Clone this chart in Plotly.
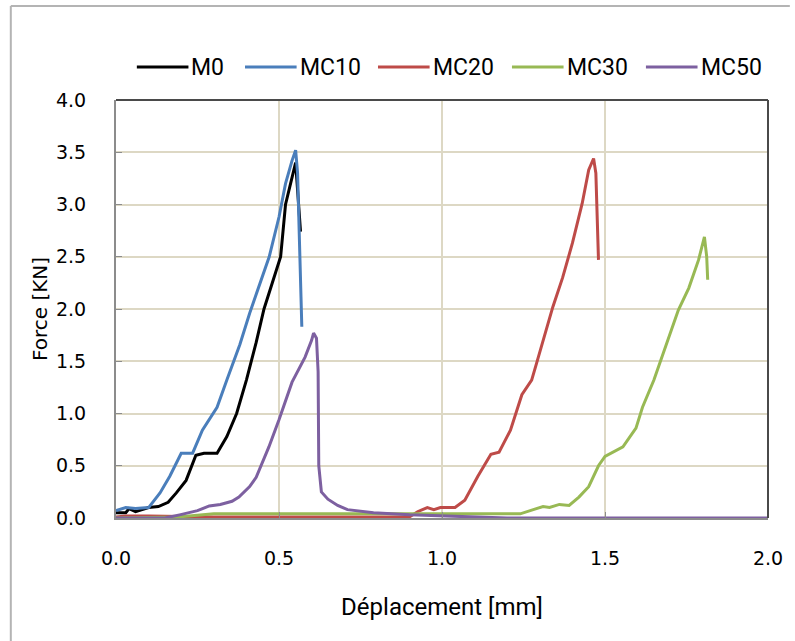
import plotly.graph_objects as go

# ---- data ----
m0_x = [0, 0.03, 0.04, 0.06, 0.1, 0.13, 0.16, 0.185, 0.215, 0.245, 0.27, 0.31, 0.34, 0.37, 0.40, 0.43, 0.454, 0.49, 0.505, 0.52, 0.545, 0.551, 0.566]
m0_y = [0.05, 0.05, 0.09, 0.06, 0.1, 0.11, 0.15, 0.24, 0.36, 0.6, 0.62, 0.62, 0.78, 1.0, 1.32, 1.68, 2.0, 2.35, 2.5, 3.0, 3.3, 3.4, 2.74]

mc10_x = [0, 0.03, 0.06, 0.1, 0.135, 0.165, 0.2, 0.215, 0.235, 0.265, 0.31, 0.34, 0.38, 0.41, 0.44, 0.47, 0.5, 0.52, 0.54, 0.551, 0.557, 0.57]
mc10_y = [0.07, 0.1, 0.09, 0.1, 0.24, 0.4, 0.62, 0.62, 0.62, 0.84, 1.06, 1.32, 1.66, 1.96, 2.22, 2.5, 2.88, 3.2, 3.42, 3.52, 3.3, 1.83]

mc20_x = [0, 0.03, 0.1, 0.3, 0.6, 0.9, 0.925, 0.955, 0.975, 0.995, 1.04, 1.07, 1.11, 1.15, 1.175, 1.21, 1.245, 1.275, 1.29, 1.34, 1.37, 1.40, 1.43, 1.45, 1.465, 1.472, 1.48]
mc20_y = [0.01, 0.02, 0.02, 0.01, 0.01, 0.01, 0.06, 0.1, 0.08, 0.1, 0.1, 0.17, 0.4, 0.61, 0.63, 0.84, 1.18, 1.32, 1.48, 2.02, 2.3, 2.63, 3.01, 3.33, 3.44, 3.3, 2.47]

mc30_x = [0, 0.19, 0.3, 0.6, 1.0, 1.24, 1.28, 1.31, 1.33, 1.36, 1.39, 1.42, 1.45, 1.48, 1.50, 1.53, 1.555, 1.595, 1.615, 1.65, 1.685, 1.725, 1.757, 1.787, 1.805, 1.812, 1.815]
mc30_y = [0.0, 0.01, 0.04, 0.04, 0.04, 0.04, 0.08, 0.11, 0.1, 0.13, 0.12, 0.2, 0.3, 0.5, 0.59, 0.64, 0.68, 0.86, 1.06, 1.32, 1.64, 1.99, 2.2, 2.47, 2.69, 2.5, 2.28]

mc50_x = [0, 0.15, 0.195, 0.25, 0.286, 0.32, 0.356, 0.377, 0.41, 0.43, 0.469, 0.5, 0.54, 0.58, 0.6, 0.606, 0.615, 0.62, 0.622, 0.63, 0.65, 0.68, 0.71, 0.79, 0.9, 1.0, 1.2, 2.0]
mc50_y = [0.0, 0.0, 0.03, 0.07, 0.115, 0.13, 0.16, 0.2, 0.3, 0.39, 0.68, 0.94, 1.3, 1.54, 1.7, 1.77, 1.72, 1.4, 0.5, 0.25, 0.18, 0.12, 0.08, 0.05, 0.03, 0.02, 0.0, 0.0]

series_names = ["M0", "MC10", "MC20", "MC30", "MC50"]
series_x = [m0_x, mc10_x, mc20_x, mc30_x, mc50_x]
series_y = [m0_y, mc10_y, mc20_y, mc30_y, mc50_y]
series_colors = ["#000000", "#4a7ebb", "#be4b48", "#98b954", "#7d60a0"]

x_ticks = [0.0, 0.5, 1.0, 1.5, 2.0]
y_ticks = [0.0, 0.5, 1.0, 1.5, 2.0, 2.5, 3.0, 3.5, 4.0]

# layout geometry (pixels)
W, H = 795, 641
L, R, T, B = 116, 22, 100, 123
PW, PH = W - L - R, H - T - B

def px(xp):
    return (xp - L) / PW

def py(yp):
    return (H - B - yp) / PH

fig = go.Figure()
for name, xs, ys, col in zip(series_names, series_x, series_y, series_colors):
    fig.add_trace(go.Scatter(x=xs, y=ys, name=name, mode="lines",
                             line=dict(color=col, width=3), showlegend=False))

tick_font = dict(family="DejaVu Sans", size=19, color="#000000")

# manual legend (long line samples like the reference)
legend_starts = [137, 246, 380, 515, 650]
legend_line_len = 52
legend_y = 67
shapes = []
annotations = []
for name, col, x0 in zip(series_names, series_colors, legend_starts):
    shapes.append(dict(type="line", xref="paper", yref="paper",
                       x0=px(x0), x1=px(x0 + legend_line_len),
                       y0=py(legend_y), y1=py(legend_y),
                       line=dict(color=col, width=3)))
    annotations.append(dict(text=name, xref="paper", yref="paper",
                            x=px(x0 + legend_line_len + 1), y=py(legend_y),
                            xanchor="left", yanchor="middle", showarrow=False,
                            font=dict(family="Roboto", size=23, color="#000000")))

shapes += [
    dict(type="line", xref="x domain", yref="y domain", x0=0, x1=1, y0=1, y1=1,
         line=dict(color="#4a4a4a", width=2)),
    dict(type="line", xref="x domain", yref="y domain", x0=1, x1=1, y0=0, y1=1,
         line=dict(color="#4a4a4a", width=2)),
    dict(type="line", xref="paper", yref="paper", x0=px(10), x1=px(W),
         y0=py(6), y1=py(6), line=dict(color="#b4b4b4", width=2)),
    dict(type="line", xref="paper", yref="paper", x0=px(10), x1=px(10),
         y0=py(6), y1=py(H), line=dict(color="#b4b4b4", width=2)),
]

fig.update_layout(
    width=W, height=H,
    margin=dict(l=L, r=R, t=T, b=B),
    paper_bgcolor="white", plot_bgcolor="white",
    showlegend=False,
    xaxis=dict(range=[0, 2.0], tickvals=x_ticks, ticktext=[f"{v:.1f}" for v in x_ticks],
               showgrid=True, gridcolor="#ddd8c4", gridwidth=2,
               showline=True, linecolor="#8c8c8c", linewidth=2,
               ticks="inside", ticklen=6, tickcolor="#8c8c8c", tickwidth=1,
               tickfont=tick_font, ticklabelstandoff=22, zeroline=False,
               title=dict(text="Déplacement [mm]", font=dict(family="Roboto", size=24, color="#000000"),
                          standoff=30)),
    yaxis=dict(range=[0, 4.0], tickvals=y_ticks, ticktext=[f"{v:.1f}" for v in y_ticks],
               showgrid=True, gridcolor="#ddd8c4", gridwidth=2,
               showline=True, linecolor="#8c8c8c", linewidth=2,
               ticks="inside", ticklen=6, tickcolor="#8c8c8c", tickwidth=1,
               tickfont=tick_font, ticklabelstandoff=24, zeroline=False,
               title=dict(text="Force [KN]", font=dict(family="DejaVu Sans", size=20, color="#000000"),
                          standoff=3)),
    shapes=shapes,
    annotations=annotations,
)

fig.write_html("out.html")
